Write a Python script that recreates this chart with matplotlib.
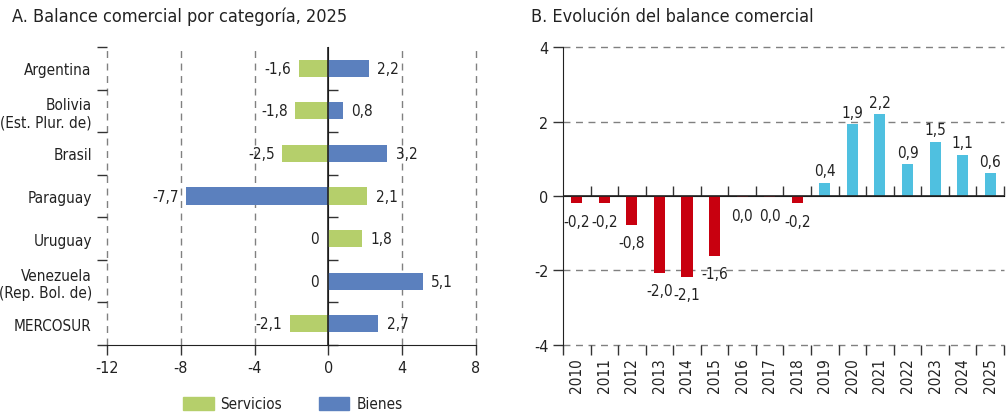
import matplotlib
matplotlib.use("Agg")
import matplotlib.pyplot as plt
import numpy as np
from matplotlib.patches import Patch

plt.rcParams['font.family'] = ['DejaVu Sans']
plt.rcParams['font.stretch'] = 'condensed'
plt.rcParams['font.size'] = 11
plt.rcParams['text.color'] = '#222222'
plt.rcParams['xtick.color'] = '#222222'
plt.rcParams['ytick.color'] = '#222222'

# Panel A
paises = ['Argentina', 'Bolivia\n(Est. Plur. de)', 'Brasil', 'Paraguay',
          'Uruguay', 'Venezuela\n(Rep. Bol. de)', 'MERCOSUR']
servicios = [-1.6, -1.8, -2.5, 2.1, 1.8, 0.0, -2.1]
bienes = [2.2, 0.8, 3.2, -7.7, 0.0, 5.1, 2.7]

# Panel B
anios = [str(a) for a in range(2010, 2026)]
balance = [-0.2, -0.2, -0.77, -2.06, -2.17, -1.61, -0.03, -0.03, -0.2,
           0.36, 1.92, 2.21, 0.85, 1.46, 1.11, 0.61]
etiquetas = ['-0,2', '-0,2', '-0,8', '-2,0', '-2,1', '-1,6', '0,0', '0,0', '-0,2',
             '0,4', '1,9', '2,2', '0,9', '1,5', '1,1', '0,6']

verde = '#B5CF6B'
azul = '#5B80BE'
rojo = '#C8000F'
celeste = '#4FC0E0'
gris = '#808080'

fig = plt.figure(figsize=(10.06, 4.14), dpi=100)
ax1 = fig.add_axes([0.1064, 0.1643, 0.3668, 0.7197])
ax2 = fig.add_axes([0.5596, 0.1643, 0.4384, 0.7197])


def fmt(v):
    if v == 0:
        return '0'
    return f'{v:.1f}'.replace('.', ',')


# ---- A ----
y = np.arange(len(paises))
ax1.barh(y, servicios, height=0.4, color=verde, zorder=3)
ax1.barh(y, bienes, height=0.4, color=azul, zorder=3)
for i in range(len(paises)):
    for v in (servicios[i], bienes[i]):
        if v < 0:
            ax1.annotate(fmt(v), (v, i), xytext=(-5.5, 0), textcoords='offset points',
                         ha='right', va='center', fontsize=11)
        elif v == 0:
            ax1.annotate(fmt(v), (v, i), xytext=(-7, 0), textcoords='offset points',
                         ha='right', va='center', fontsize=11)
        else:
            ax1.annotate(fmt(v), (v, i), xytext=(6, 0), textcoords='offset points',
                         ha='left', va='center', fontsize=11)

ax1.set_xlim(-12, 8)
ax1.set_ylim(len(paises) - 0.5, -0.5)
ax1.set_xticks([-12, -8, -4, 0, 4, 8])
ax1.set_xticklabels(['-12', '-8', '-4', '0', '4', '8'])
ax1.set_yticks(y)
ax1.set_yticklabels(paises)
ax1.set_yticks(np.arange(-0.5, len(paises)), minor=True)
ax1.tick_params(axis='y', which='major', length=0, pad=11)
ax1.tick_params(axis='y', which='minor', length=7, width=1, color='#333333')
ax1.tick_params(axis='x', length=7, width=1, color='#333333', labelsize=11.5)
ax1.tick_params(axis='y', labelsize=11)
for s in ('left', 'top', 'right'):
    ax1.spines[s].set_visible(False)
ax1.spines['bottom'].set_color('#222222')
for xv in [-12, -8, -4, 4, 8]:
    ax1.axvline(xv, color=gris, linestyle=(0, (5, 4)), linewidth=1, zorder=1,
                clip_on=False)
ax1.axvline(0, color='#222222', linewidth=1.2, zorder=4)
sec1 = ax1.secondary_yaxis(0.6)
sec1.spines['left'].set_visible(False)
sec1.set_yticks(np.arange(0.5, len(paises)))
sec1.set_yticklabels([])
sec1.tick_params(length=7, width=1, color='#333333')
ax1.set_title('A. Balance comercial por categoría, 2025', loc='left',
              x=-0.258, y=1.06, fontsize=13)

fig.legend(handles=[Patch(color=verde, label='Servicios'),
                    Patch(color=azul, label='Bienes')],
           loc='center', bbox_to_anchor=(0.291, 0.022), ncol=2, frameon=False,
           handlelength=2.0, handleheight=0.95, handletextpad=0.45,
           columnspacing=2.4, fontsize=11)

# ---- B ----
x = np.arange(len(anios))
colores = [rojo if v < 0 else celeste for v in balance]
ax2.bar(x, balance, width=0.4, color=colores, zorder=3)
for i, v in enumerate(balance):
    if v < 0:
        ax2.annotate(etiquetas[i], (i, v), xytext=(0, -7.5), textcoords='offset points',
                     ha='center', va='top', fontsize=11)
    else:
        ax2.annotate(etiquetas[i], (i, v), xytext=(0, 3),
                     textcoords='offset points', ha='center', va='bottom',
                     fontsize=11)

ax2.set_xlim(-0.5, len(anios) - 0.5)
ax2.set_ylim(-4, 4)
ax2.set_yticks([-4, -2, 0, 2, 4])
ax2.set_yticklabels(['-4', '-2', '0', '2', '4'])
ax2.set_xticks(x)
ax2.set_xticklabels(anios, rotation=90)
ax2.set_xticks(np.arange(-0.5, len(anios)), minor=True)
ax2.tick_params(axis='x', which='major', length=0, pad=9, labelsize=11)
ax2.tick_params(axis='x', which='minor', length=7, width=1, color='#333333')
ax2.tick_params(axis='y', length=7, width=1, color='#333333', labelsize=11.5)
for s in ('bottom', 'top', 'right'):
    ax2.spines[s].set_visible(False)
ax2.spines['left'].set_color('#222222')
for yv in [-4, -2, 2, 4]:
    ax2.axhline(yv, color=gris, linestyle=(0, (5, 4)), linewidth=1, zorder=1,
                clip_on=False)
ax2.axhline(0, color='#222222', linewidth=1.2, zorder=4)
sec2 = ax2.secondary_xaxis(0.5)
sec2.spines['bottom'].set_visible(False)
sec2.set_xticks(np.arange(0.5, len(anios)))
sec2.set_xticklabels([])
sec2.tick_params(length=7, width=1, color='#333333')
ax2.set_title('B. Evolución del balance comercial', loc='left',
              x=-0.073, y=1.06, fontsize=13)

fig.savefig('out.png', dpi=100)
